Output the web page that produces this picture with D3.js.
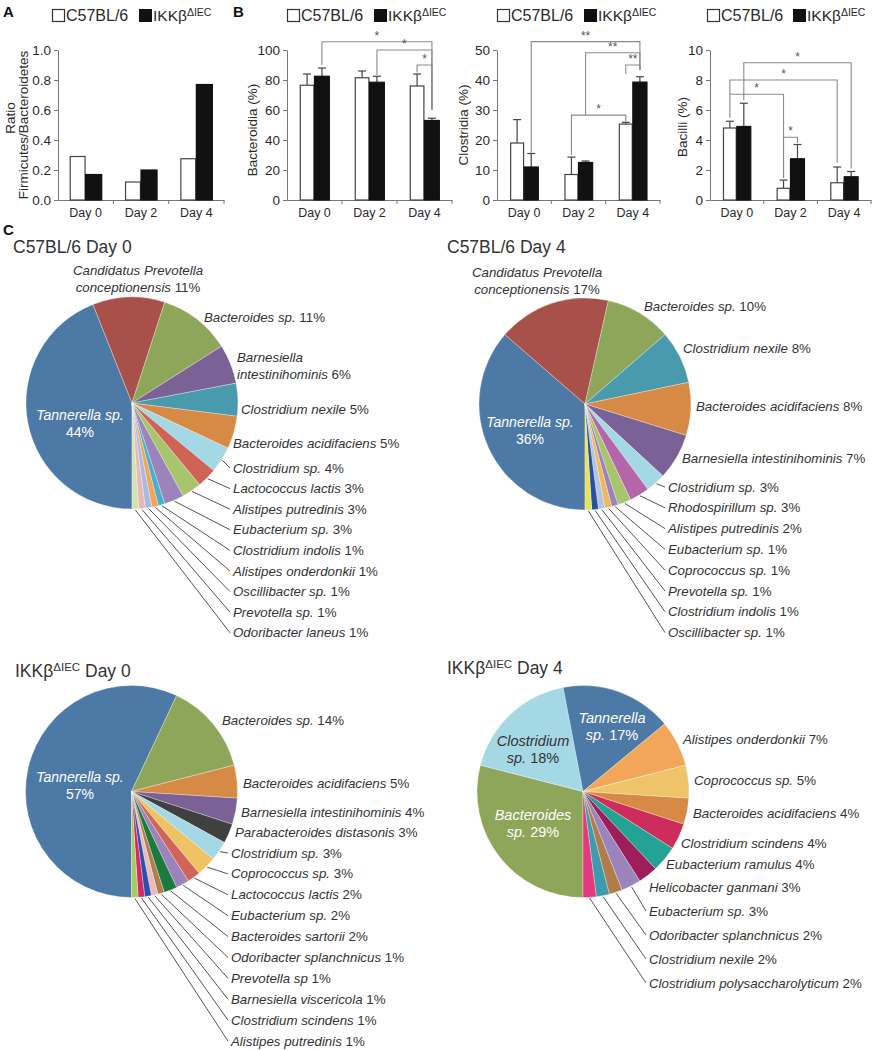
<!DOCTYPE html>
<html><head><meta charset="utf-8">
<script src="https://cdn.jsdelivr.net/npm/d3@7"></script>
<style>
body{margin:0;background:#fff}
svg{display:block}
text{font-family:"Liberation Sans",Arial,Helvetica,sans-serif}
</style>
</head><body>
<svg id="fig" width="872" height="1050"></svg>
<script>
// ================= DATA =================
const days = ["Day 0", "Day 2", "Day 4"];
const groups = ["C57BL/6", "IKKβ"];

// Panel A: Firmicutes/Bacteroidetes ratio
const ratioWT = [0.29, 0.12, 0.275];
const ratioKO = [0.17, 0.20, 0.77];

// Panel B: class abundance (%) mean and error
const bacteroidiaWT = [76.5, 81.5, 76];
const bacteroidiaWTErr = [7.5, 4.5, 8];
const bacteroidiaKO = [82.5, 78.5, 53];
const bacteroidiaKOErr = [5.5, 4, 1.5];

const clostridiaWT = [19, 8.5, 25.3];
const clostridiaWTErr = [7.8, 5.8, 0.6];
const clostridiaKO = [11, 12.5, 39.3];
const clostridiaKOErr = [4.5, 0.5, 1.8];

const bacilliWT = [4.8, 0.78, 1.15];
const bacilliWTErr = [0.45, 0.55, 1.05];
const bacilliKO = [4.9, 2.75, 1.55];
const bacilliKOErr = [1.55, 0.95, 0.35];

// significance comparisons: [day, group] -> [day, group], label
const bacteroidiaSig = [[[0,1],[2,1],"*"], [[1,1],[2,1],"*"], [[2,0],[2,1],"*"]];
const clostridiaSig = [[[0,1],[2,1],"**"], [[1,1],[2,1],"**"], [[2,0],[2,1],"**"], [[1,0],[2,0],"*"]];
const bacilliSig = [[[0,1],[2,1],"*"], [[0,0],[2,0],"*"], [[0,0],[1,0],"*"], [[1,0],[1,1],"*"]];

// Panel C pies (clockwise from 6 o'clock)
const pie1Names = ["Tannerella sp.", "Candidatus Prevotella conceptionensis", "Bacteroides sp.", "Barnesiella intestinihominis", "Clostridium nexile", "Bacteroides acidifaciens", "Clostridium sp.", "Lactococcus lactis", "Alistipes putredinis", "Eubacterium sp.", "Clostridium indolis", "Alistipes onderdonkii", "Oscillibacter sp.", "Prevotella sp.", "Odoribacter laneus"];
const pie1Values = [44, 11, 11, 6, 5, 5, 4, 3, 3, 3, 1, 1, 1, 1, 1];

const pie2Names = ["Tannerella sp.", "Candidatus Prevotella conceptionensis", "Bacteroides sp.", "Clostridium nexile", "Bacteroides acidifaciens", "Barnesiella intestinihominis", "Clostridium sp.", "Rhodospirillum sp.", "Alistipes putredinis", "Eubacterium sp.", "Coprococcus sp.", "Prevotella sp.", "Clostridium indolis", "Oscillibacter sp."];
const pie2Values = [36, 17, 10, 8, 8, 7, 3, 3, 2, 1, 1, 1, 1, 1];

const pie3Names = ["Tannerella sp.", "Bacteroides sp.", "Bacteroides acidifaciens", "Barnesiella intestinihominis", "Parabacteroides distasonis", "Clostridium sp.", "Coprococcus sp.", "Lactococcus lactis", "Eubacterium sp.", "Bacteroides sartorii", "Odoribacter splanchnicus", "Prevotella sp", "Barnesiella viscericola", "Clostridium scindens", "Alistipes putredinis"];
const pie3Values = [57, 14, 5, 4, 3, 3, 3, 2, 2, 2, 1, 1, 1, 1, 1];

const pie4Names = ["Bacteroides sp.", "Clostridium sp.", "Tannerella sp.", "Alistipes onderdonkii", "Coprococcus sp.", "Bacteroides acidifaciens", "Clostridium scindens", "Eubacterium ramulus", "Helicobacter ganmani", "Eubacterium sp.", "Odoribacter splanchnicus", "Clostridium nexile", "Clostridium polysaccharolyticum"];
const pie4Values = [29, 18, 17, 7, 5, 4, 4, 4, 3, 3, 2, 2, 2];

// ================= STYLES / LAYOUT =================
const pie1Colors = ["#4d79a7","#a8504a","#8ea65a","#7a6196","#4a9aae","#d78a46","#a4d8e4","#cf6356","#a8c46c","#9b83bb","#48b0c8","#f2a45a","#aab9df","#e6b9b6","#d3e2b0"];
const pie2Colors = ["#4d79a7","#a8504a","#8ea65a","#4a9aae","#d78a46","#7a6196","#a4d8e4","#b566aa","#a8c46c","#9b83bb","#f0b85a","#b0c4e4","#2a4f9e","#e8e45a"];
const pie3Colors = ["#4d79a7","#8ea65a","#d78a46","#7a6196","#404040","#a4d8e4","#efc263","#d06458","#9b83bb","#1c7a3c","#b27c4c","#e8bcbc","#2f50a8","#d42a64","#a6cc62"];
const pie4Colors = ["#8ea65a","#a4d8e4","#4d79a7","#f2a65a","#efc468","#d78a46","#cc2d5c","#22a393","#9c1f5c","#9b83bb","#b07c4a","#3e9bad","#e23a7c"];

const svg = d3.select("#fig");
const TXT = "#2a2a2a";
const PIE_FONT = 13.3;

// panel letters
[["A",3,17],["B",233,17],["C",3,235]].forEach(([t,x,y]) =>
  svg.append("text").attr("x",x).attr("y",y).attr("font-size",15).attr("font-weight","bold").attr("fill","#111").text(t));

function legend(x1, x2) {
  const g = svg.append("g");
  g.append("rect").attr("x",x1+0.5).attr("y",9.5).attr("width",12).attr("height",12).attr("fill","#fff").attr("stroke","#333").attr("stroke-width",1.2);
  g.append("text").attr("x",x1+14).attr("y",21).attr("font-size",16).attr("fill",TXT).text(groups[0]);
  g.append("rect").attr("x",x2).attr("y",9).attr("width",13).attr("height",13).attr("fill","#111");
  const t = g.append("text").attr("x",x2+14).attr("y",21).attr("font-size",15.5).attr("fill",TXT);
  t.append("tspan").text(groups[1]);
  t.append("tspan").attr("font-size",10.5).attr("dy",-5).text("ΔIEC");
}

function barChart(cfg) {
  const g = svg.append("g");
  const y = d3.scaleLinear().domain([0, cfg.yMax]).range([200, 50]);
  const x0 = d3.scaleBand().domain(days).range(cfg.xr).paddingInner(cfg.pad).paddingOuter(cfg.pad/2);
  const x1 = d3.scaleBand().domain([0,1]).range([0, x0.bandwidth()]);
  const cx = (d, s) => x0(days[d]) + x1(s) + x1.bandwidth()/2;

  // y axis
  const ya = g.append("g").attr("transform",`translate(${cfg.xr[0]},0)`)
    .call(d3.axisLeft(y).tickValues(cfg.ticks).tickFormat(cfg.fmt).tickSize(4).tickSizeOuter(0).tickPadding(3));
  ya.select(".domain").attr("stroke","#777");
  ya.selectAll(".tick line").attr("stroke","#777");
  ya.selectAll(".tick text").attr("font-size",13.5).attr("fill",TXT).attr("font-family","Liberation Sans, Arial, sans-serif");

  // x axis
  const xa = g.append("g").attr("transform",`translate(0,${y(0)})`)
    .call(d3.axisBottom(x0).tickSize(0).tickPadding(8).tickSizeOuter(0));
  xa.select(".domain").attr("stroke","#777");
  xa.selectAll(".tick text").attr("font-size",12.5).attr("fill",TXT).attr("font-family","Liberation Sans, Arial, sans-serif");
  days.slice(1).forEach(d => {
    const bx = x0(d) - x0.step()*x0.paddingInner()/2;
    xa.append("line").attr("x1",bx).attr("x2",bx).attr("y1",0).attr("y2",4).attr("stroke","#777");
  });
  xa.append("line").attr("x1",cfg.xr[1]).attr("x2",cfg.xr[1]).attr("y1",0).attr("y2",4).attr("stroke","#777");

  // y label
  cfg.ylab.forEach(([txt, lx, ly]) => {
    g.append("text").attr("transform",`translate(${lx},${ly}) rotate(-90)`).attr("text-anchor","middle")
      .attr("dy","0.35em").attr("font-size",13.5).attr("fill",TXT).text(txt);
  });

  // bars
  const series = [[cfg.wt, cfg.wtErr], [cfg.ko, cfg.koErr]];
  series.forEach(([vals, errs], s) => {
    vals.forEach((v, d) => {
      const bx = x0(days[d]) + x1(s);
      if (errs) {
        const c = cx(d, s), top = y(v + errs[d]);
        g.append("line").attr("x1",c).attr("x2",c).attr("y1",y(v)).attr("y2",top).attr("stroke","#444").attr("stroke-width",1.2);
        g.append("line").attr("x1",c-4).attr("x2",c+4).attr("y1",top).attr("y2",top).attr("stroke","#444").attr("stroke-width",1.2);
      }
      g.append("rect").attr("x", bx + (s===0?0.6:0)).attr("y", y(v)).attr("width", x1.bandwidth() - (s===0?1.2:0))
        .attr("height", y(0) - y(v))
        .attr("fill", s===0 ? "#fff" : "#111").attr("stroke", s===0 ? "#444" : "#111").attr("stroke-width", 1.2);
    });
  });

  // significance brackets
  if (cfg.sig) {
    cfg.sig.forEach(([a, b, lab], i) => {
      const L = cfg.sigLayout[i];
      const xa1 = cx(a[0], a[1]), xb = cx(b[0], b[1]);
      g.append("path").attr("d", `M${xa1},${y(L.e1)}V${y(L.top)}H${xb}V${y(L.e2)}`)
        .attr("fill","none").attr("stroke","#8a8a8a").attr("stroke-width",1.1);
      g.append("text").attr("x",(xa1+xb)/2).attr("y",y(L.top)-2).attr("text-anchor","middle")
        .attr("font-size",12).attr("fill","#555").text(lab);
    });
  }
  legend(cfg.leg[0], cfg.leg[1]);
}

barChart({xr:[58,224], pad:0.42, yMax:1, ticks:[0,0.2,0.4,0.6,0.8,1], fmt:d3.format(".1f"),
  wt:ratioWT, ko:ratioKO, ylab:[["Ratio",10,118],["Firmicutes/Bacteroidetes",23,125]], leg:[52,139]});

barChart({xr:[287,452], pad:0.46, yMax:100, ticks:[0,20,40,60,80,100], fmt:d3.format("d"),
  wt:bacteroidiaWT, wtErr:bacteroidiaWTErr, ko:bacteroidiaKO, koErr:bacteroidiaKOErr,
  ylab:[["Bacteroidia (%)",252,130]], leg:[287,374], sig:bacteroidiaSig,
  sigLayout:[{top:105.5,e1:90,e2:60},{top:100,e1:83.3,e2:60},{top:90,e1:85,e2:60}]});

barChart({xr:[497,660], pad:0.48, yMax:50, ticks:[0,10,20,30,40,50], fmt:d3.format("d"),
  wt:clostridiaWT, wtErr:clostridiaWTErr, ko:clostridiaKO, koErr:clostridiaKOErr,
  ylab:[["Clostridia (%)",463,125]], leg:[497,584], sig:clostridiaSig,
  sigLayout:[{top:52.8,e1:15.8,e2:43.3},{top:49.1,e1:28.3,e2:43.3},{top:45,e1:42,e2:43.3},{top:28.3,e1:15,e2:26.1}]});

barChart({xr:[710,871], pad:0.48, yMax:10, ticks:[0,2,4,6,8,10], fmt:d3.format("d"),
  wt:bacilliWT, wtErr:bacilliWTErr, ko:bacilliKO, koErr:bacilliKOErr,
  ylab:[["Bacilli (%)",682,127]], leg:[707,793], sig:bacilliSig,
  sigLayout:[{top:9.15,e1:6.67,e2:2.1},{top:8.0,e1:7.05,e2:2.5},{top:7.05,e1:5.47,e2:1.47},{top:4.18,e1:1.47,e2:3.8}]});

// ================= PIES =================
function pieTitle(x, y, ko, day) {
  const t = svg.append("text").attr("x",x).attr("y",y).attr("font-size",17.5).attr("fill","#333");
  if (ko) {
    t.append("tspan").text("IKKβ");
    t.append("tspan").attr("font-size",11.5).attr("dy",-6).text("ΔIEC");
    t.append("tspan").attr("dy",6).text(" " + day);
  } else t.text("C57BL/6 " + day);
}

function pieChart(names, values, colors, L) {
  const g = svg.append("g");
  const data = names.map((n, i) => ({name:n, v:values[i], i}));
  const arcs = d3.pie().sort(null).value(d => d.v).startAngle(Math.PI).endAngle(3*Math.PI)(data);
  const arc = d3.arc().innerRadius(0).outerRadius(L.r);
  g.selectAll("path").data(arcs).join("path")
    .attr("transform",`translate(${L.cx},${L.cy})`)
    .attr("d", arc).attr("fill", d => colors[d.index])
    .attr("stroke","#fff").attr("stroke-width",0.3);

  arcs.forEach((a, i) => {
    let lab = L.labels[i];
    const leader = i >= L.leadStart;
    if (leader) lab = {x:L.leadX, y:L.leadY0 + (i - L.leadStart)*L.leadDy};
    const mid = (a.startAngle + a.endAngle)/2;
    if (leader) {
      const sx = L.cx + (L.r+1)*Math.sin(mid), sy = L.cy - (L.r+1)*Math.cos(mid);
      g.append("line").attr("x1",sx).attr("y1",sy).attr("x2",lab.x-3).attr("y2",lab.y)
        .attr("stroke","#555").attr("stroke-width",1);
    }
    const words = a.data.name.split(" ");
    const pct = a.data.v + "%";
    const fill = lab.fill || "#333";
    const size = lab.size || PIE_FONT;
    const anchor = lab.a || "start";
    const t = g.append("text").attr("x",lab.x).attr("y",lab.y+4.5).attr("text-anchor",anchor)
      .attr("font-size",size).attr("fill",fill);
    if (lab.split === undefined) {
      t.append("tspan").attr("font-style","italic").text(words.join(" "));
      t.append("tspan").text(" " + pct);
    } else {
      const l1 = words.slice(0, lab.split), l2 = words.slice(lab.split);
      t.append("tspan").attr("font-style","italic").text(l1.join(" "));
      const t2 = g.append("text").attr("x",lab.x).attr("y",lab.y+4.5+17).attr("text-anchor",anchor)
        .attr("font-size",size).attr("fill",fill);
      if (l2.length) {
        t2.append("tspan").attr("font-style","italic").text(l2.join(" "));
        t2.append("tspan").text(" " + pct);
      } else t2.append("tspan").text(pct);
    }
  });
}

pieTitle(13, 253, false, "Day 0");
pieChart(pie1Names, pie1Values, pie1Colors, {cx:132, cy:403, r:106,
  leadStart:6, leadX:233, leadY0:468, leadDy:20.6,
  labels:[{x:80,y:415,a:"middle",split:2,fill:"#fff",size:14},{x:138,y:270,a:"middle",split:2},
    {x:204,y:317},{x:237,y:357,split:1},{x:241,y:409},{x:233,y:443}]});

pieTitle(447, 253, false, "Day 4");
pieChart(pie2Names, pie2Values, pie2Colors, {cx:585, cy:404, r:106,
  leadStart:6, leadX:668, leadY0:487, leadDy:20.8,
  labels:[{x:530,y:422,a:"middle",split:2,fill:"#fff",size:14},{x:537,y:272,a:"middle",split:2},
    {x:644,y:306},{x:683,y:348},{x:696,y:406},{x:682,y:458}]});

pieTitle(15, 677, true, "Day 0");
pieChart(pie3Names, pie3Values, pie3Colors, {cx:131.5, cy:791.5, r:106,
  leadStart:5, leadX:231, leadY0:853, leadDy:20.9,
  labels:[{x:80,y:777,a:"middle",split:2,fill:"#fff",size:14},{x:222,y:720},{x:243,y:783},{x:241,y:812},{x:235,y:832}]});

pieTitle(447, 674, true, "Day 4");
pieChart(pie4Names, pie4Values, pie4Colors, {cx:583, cy:791.5, r:106,
  leadStart:9, leadX:649, leadY0:911, leadDy:24,
  labels:[{x:533,y:815,a:"middle",split:1,fill:"#fff",size:14.5},{x:533,y:741,a:"middle",split:1,fill:"#333",size:14.5},
    {x:612,y:718,a:"middle",split:1,fill:"#fff",size:14.5},
    {x:683,y:739},{x:694,y:780},{x:693,y:813},{x:681,y:843},{x:666,y:864},{x:649,y:887}]});
</script>
</body></html>
